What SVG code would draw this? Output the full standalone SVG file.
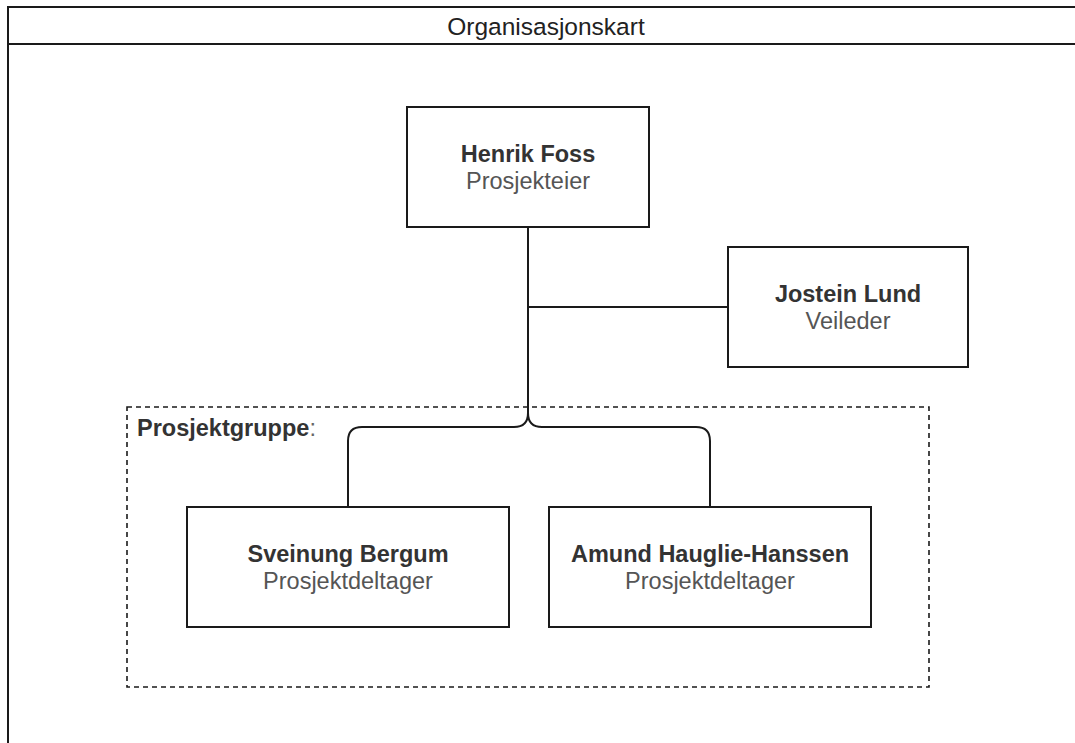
<svg xmlns="http://www.w3.org/2000/svg" width="1075" height="743" viewBox="0 0 1075 743">
  <style>
    .box { fill: #ffffff; stroke: #1a1a1a; stroke-width: 2; }
    .frame { fill: none; stroke: #1a1a1a; stroke-width: 2; }
    .group { fill: none; stroke: #1a1a1a; stroke-width: 1.6; stroke-dasharray: 5 4; }
    .link { fill: none; stroke: #1a1a1a; stroke-width: 2; }
    .name { font-family: "Liberation Sans", Arial, sans-serif; font-size: 23.5px; font-weight: bold; fill: #333333; text-anchor: middle; }
    .role { font-family: "Liberation Sans", Arial, sans-serif; font-size: 23.5px; fill: #555555; text-anchor: middle; }
    .title { font-family: "Liberation Sans", Arial, sans-serif; font-size: 24.5px; fill: #222222; text-anchor: middle; }
    .label { font-family: "Liberation Sans", Arial, sans-serif; font-size: 23.5px; font-weight: bold; fill: #333333; }
  </style>

  <rect width="1075" height="743" fill="#ffffff"/>

  <!-- outer swimlane frame with header -->
  <g id="frame">
    <path class="frame" d="M8,743 V7 H1080 M8,44 H1080"/>
    <text class="title" x="546" y="35">Organisasjonskart</text>
  </g>

  <!-- dashed container for the project group -->
  <g id="prosjektgruppe">
    <rect class="group" x="127" y="407" width="802" height="280"/>
    <text class="label" x="137" y="436">Prosjektgruppe<tspan font-weight="normal" fill="#666666">:</tspan></text>
  </g>

  <!-- connectors -->
  <g id="connectors">
    <path class="link" d="M528,227 V307 H728"/>
    <path class="link" d="M528,307 V413 Q528,427 514,427 H362 Q348,427 348,441 V507"/>
    <path class="link" d="M528,413 Q528,427 542,427 H696 Q710,427 710,441 V507"/>
  </g>

  <g id="henrik-foss">
    <rect class="box" x="407" y="107" width="242" height="120"/>
    <text class="name" x="528" y="162">Henrik Foss</text>
    <text class="role" x="528" y="189">Prosjekteier</text>
  </g>

  <g id="jostein-lund">
    <rect class="box" x="728" y="247" width="240" height="120"/>
    <text class="name" x="848" y="302">Jostein Lund</text>
    <text class="role" x="848" y="329">Veileder</text>
  </g>

  <g id="sveinung-bergum">
    <rect class="box" x="187" y="507" width="322" height="120"/>
    <text class="name" x="348" y="562">Sveinung Bergum</text>
    <text class="role" x="348" y="589">Prosjektdeltager</text>
  </g>

  <g id="amund-hauglie-hanssen">
    <rect class="box" x="549" y="507" width="322" height="120"/>
    <text class="name" x="710" y="562">Amund Hauglie-Hanssen</text>
    <text class="role" x="710" y="589">Prosjektdeltager</text>
  </g>
</svg>
